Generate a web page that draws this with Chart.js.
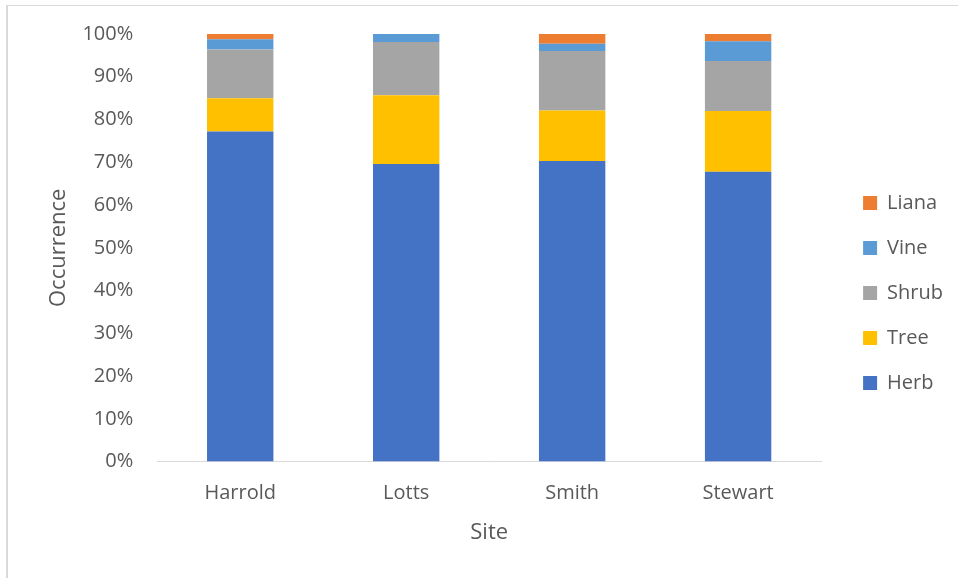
<!DOCTYPE html>
<html>
<head>
<meta charset="utf-8">
<script src="https://cdn.jsdelivr.net/npm/chart.js@4"></script>
<style>
  html, body { margin: 0; padding: 0; background: #fff; }
  #frame { position: absolute; left: 6px; top: 5px; width: 1000px; height: 700px;
           border-left: 2px solid #d9d9d9; border-top: 1px solid #d9d9d9; }
  #wrap { position: absolute; left: 0; top: 0; width: 958px; height: 578px; }
</style>
</head>
<body>
<div id="frame"></div>
<div id="wrap"><canvas id="myChart" width="958" height="578"></canvas></div>
<script>
// sites along the x axis
var sites = ['Harrold', 'Lotts', 'Smith', 'Stewart'];

// share of occurrence per growth form (%)
var herb  = [77.2, 69.6, 70.3, 67.8];
var tree  = [7.8, 16.1, 11.8, 14.2];
var shrub = [11.4, 12.4, 13.9, 11.7];
var vine  = [2.4, 1.9, 1.7, 4.6];
var liana = [1.2, 0, 2.3, 1.7];

var yTicks = [0, 10, 20, 30, 40, 50, 60, 70, 80, 90, 100];

var font = 'Open Sans';
var textColor = '#595959';

// nudge the legend right and up, away from the plot
var shiftLegend = {
    id: 'shiftLegend',
    afterLayout: function (chart) {
        chart.legend.left += 17;
        chart.legend.right += 17;
        chart.legend.top -= 8;
        chart.legend.bottom -= 8;
    }
};

var ctx = document.getElementById('myChart').getContext('2d');
new Chart(ctx, {
    type: 'bar',
    data: {
        labels: sites,
        datasets: [
            { label: 'Herb',  data: herb,  backgroundColor: '#4472C4' },
            { label: 'Tree',  data: tree,  backgroundColor: '#FFC000' },
            { label: 'Shrub', data: shrub, backgroundColor: '#A5A5A5' },
            { label: 'Vine',  data: vine,  backgroundColor: '#5B9BD5' },
            { label: 'Liana', data: liana, backgroundColor: '#ED7D31' }
        ]
    },
    options: {
        responsive: false,
        animation: false,
        datasets: {
            bar: { barPercentage: 0.4, categoryPercentage: 1.0, borderWidth: 0 }
        },
        layout: { padding: { left: 10, right: 22, top: 34, bottom: 10 } },
        plugins: {
            tooltip: { enabled: false },
            legend: {
                position: 'right',
                reverse: true,
                labels: {
                    boxWidth: 14,
                    boxHeight: 14,
                    padding: 25,
                    color: textColor,
                    font: { family: font, size: 20 }
                }
            }
        },
        scales: {
            x: {
                stacked: true,
                grid: { display: false, drawTicks: true, tickLength: 20 },
                border: { display: true, color: '#d9d9d9', width: 1 },
                ticks: { color: textColor, padding: 0, font: { family: font, size: 20 } },
                title: {
                    display: true,
                    text: 'Site',
                    color: textColor,
                    font: { family: font, size: 22 },
                    padding: { top: 14, bottom: 22 }
                }
            },
            y: {
                stacked: true,
                min: 0,
                max: 100,
                afterBuildTicks: function (axis) {
                    axis.ticks = yTicks.map(function (v) { return { value: v }; });
                },
                grid: { display: false, drawTicks: true, tickLength: 24 },
                border: { display: false },
                ticks: {
                    color: textColor,
                    padding: 0,
                    font: { family: font, size: 20 },
                    callback: function (v) { return v + '%'; }
                },
                title: {
                    display: true,
                    text: 'Occurrence',
                    color: textColor,
                    font: { family: font, size: 22 },
                    padding: { top: 36, bottom: 10 }
                }
            }
        }
    },
    plugins: [shiftLegend]
});
</script>
</body>
</html>
